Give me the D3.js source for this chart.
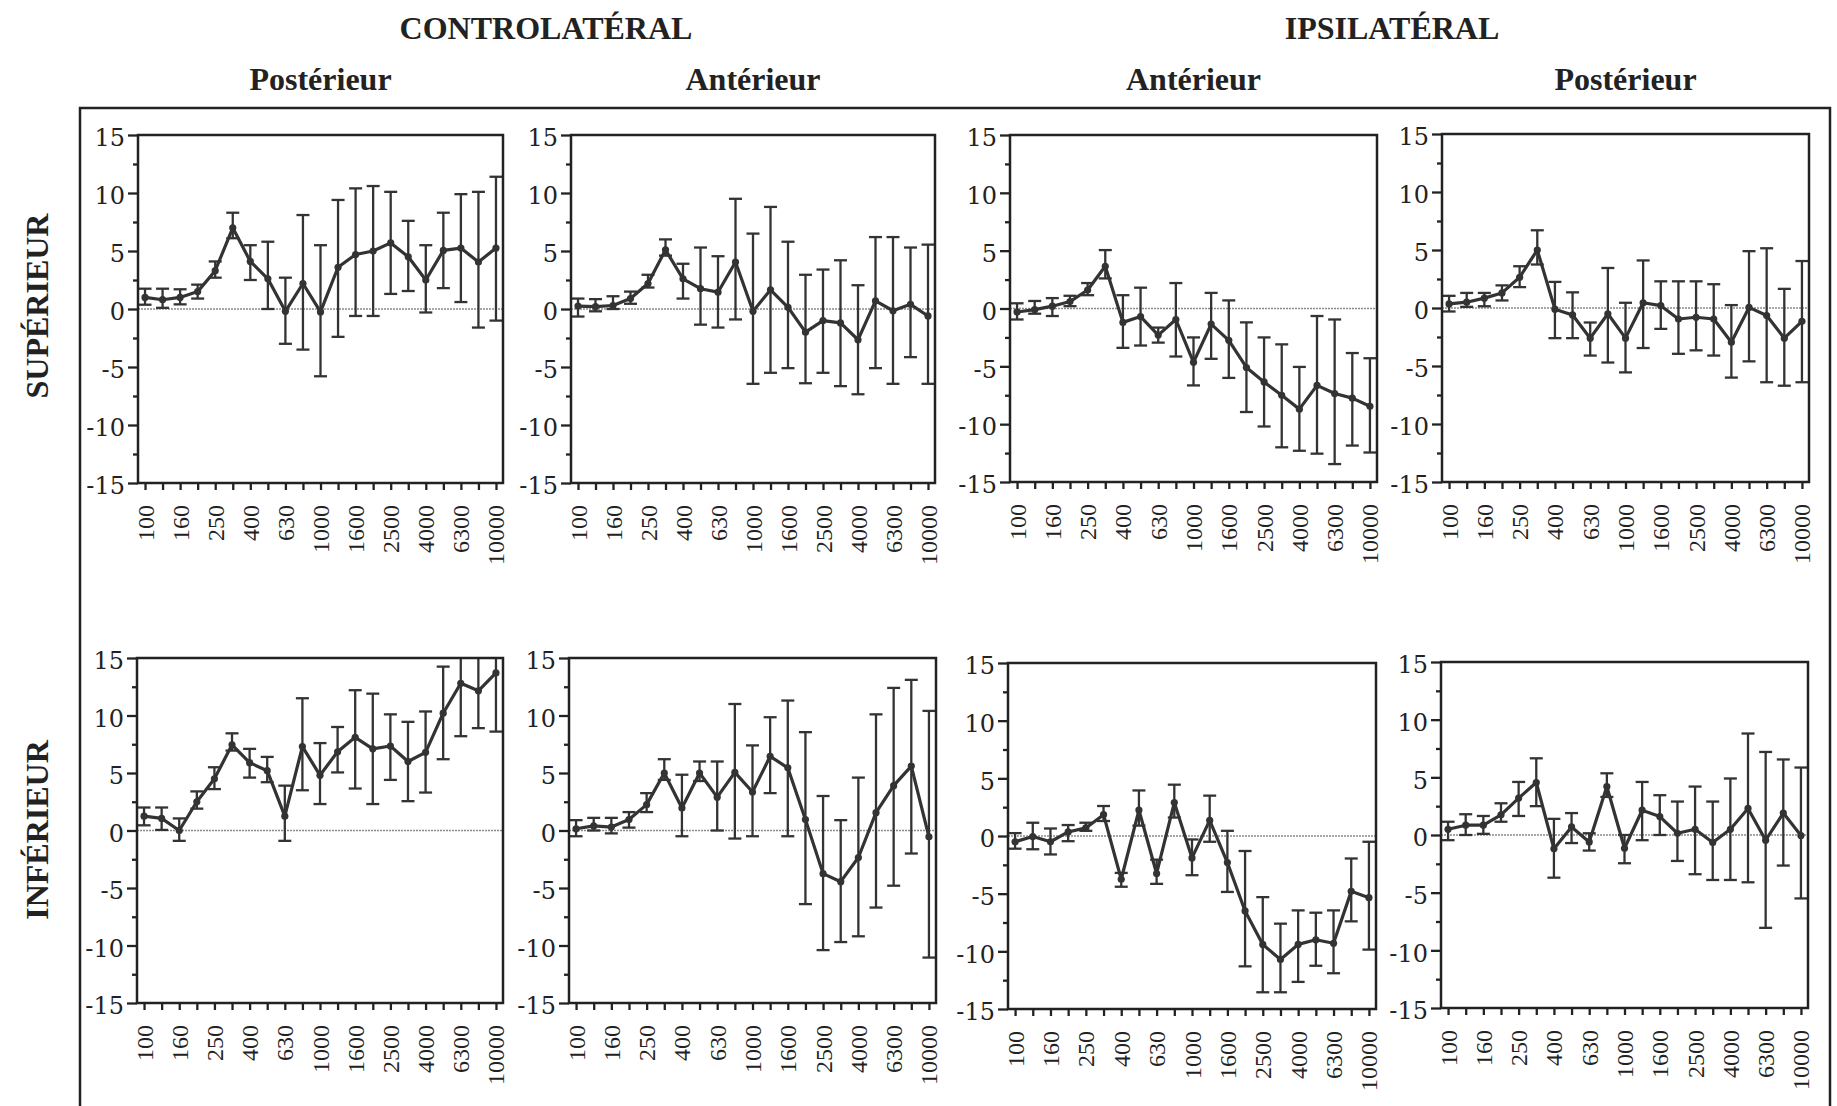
<!DOCTYPE html>
<html>
<head>
<meta charset="utf-8">
<title>Controlatéral / Ipsilatéral</title>
<script src="https://d3js.org/d3.v7.min.js"></script>
<style>
  body { margin: 0; background: #fff; }
  svg { display: block; }
</style>
</head>
<body>
<div id="chart"></div>
<script>
// third-octave frequencies, one point each
const freqs = ["100","125","160","200","250","315","400","500","630","800","1000","1250","1600","2000","2500","3150","4000","5000","6300","8000","10000"];
const freqLabels = ["100","160","250","400","630","1000","1600","2500","4000","6300","10000"];
const yTicks = [-15, -10, -5, 0, 5, 10, 15];
const yMinor = [-12.5, -7.5, -2.5, 2.5, 7.5, 12.5];

const colHeads = ["Postérieur", "Antérieur", "Antérieur", "Postérieur"];
const groupHeads = ["CONTROLATÉRAL", "IPSILATÉRAL"];
const rowHeads = ["SUPÉRIEUR", "INFÉRIEUR"];

// supérieur / controlatéral postérieur
const supCPMean = [1.0,0.8,1.0,1.5,3.3,7.0,4.1,2.6,-0.2,2.2,-0.25,3.6,4.7,5.0,5.7,4.5,2.5,5.05,5.25,4.05,5.25];
const supCPHi   = [1.75,1.75,1.7,2.1,4.1,8.3,5.5,5.8,2.7,8.1,5.5,9.4,10.4,10.6,10.1,7.6,5.5,8.3,9.9,10.1,11.4];
const supCPLo   = [0.37,0.1,0.4,0.9,2.7,6.1,2.5,0,-3.0,-3.5,-5.8,-2.4,-0.6,-0.6,1.3,1.55,-0.3,1.8,0.6,-1.6,-1.0];

// supérieur / controlatéral antérieur
const supCAMean = [0.25,0.2,0.3,0.9,2.2,5.1,2.6,1.75,1.45,4.05,-0.2,1.65,0.15,-2.0,-1.0,-1.2,-2.65,0.7,-0.15,0.4,-0.6];
const supCAHi   = [0.9,0.85,1.1,1.5,2.95,6.0,3.9,5.3,4.55,9.5,6.5,8.8,5.8,2.95,3.4,4.2,2.05,6.2,6.2,5.3,5.55];
const supCALo   = [-0.65,-0.2,0,0.45,1.85,4.6,0.9,-1.35,-1.6,-0.9,-6.45,-5.5,-5.1,-6.4,-5.5,-6.65,-7.35,-5.1,-6.45,-4.15,-6.45];

// supérieur / ipsilatéral antérieur
const supIAMean = [-0.3,-0.1,0.2,0.6,1.6,3.65,-1.2,-0.7,-2.3,-0.95,-4.65,-1.35,-2.75,-5.1,-6.35,-7.5,-8.7,-6.65,-7.35,-7.75,-8.45];
const supIAHi   = [0.45,0.65,0.9,1.1,2.2,5.05,1.15,1.8,-1.65,2.2,-2.5,1.35,0.7,-1.2,-2.5,-3.1,-5.05,-0.65,-0.95,-3.85,-4.3];
const supIALo   = [-0.95,-0.45,-0.65,0.2,1.15,2.6,-3.4,-3.2,-2.95,-4.15,-6.65,-4.35,-6.0,-8.95,-10.2,-12.0,-12.3,-12.55,-13.45,-11.85,-12.45];

// supérieur / ipsilatéral postérieur
const supIPMean = [0.35,0.5,0.85,1.3,2.65,5.0,-0.1,-0.6,-2.6,-0.5,-2.6,0.45,0.2,-0.95,-0.8,-0.95,-2.95,0.05,-0.65,-2.6,-1.15];
const supIPHi   = [1.05,1.3,1.3,1.95,3.6,6.7,2.25,1.35,-1.25,3.45,0.45,4.1,2.3,2.3,2.3,2.05,0.25,4.9,5.15,1.65,4.05];
const supIPLo   = [-0.3,0.1,0.15,0.65,1.8,3.75,-2.6,-2.6,-4.1,-4.7,-5.55,-3.45,-1.8,-3.95,-3.65,-4.1,-6.0,-4.6,-6.4,-6.7,-6.4];

// inférieur / controlatéral postérieur
const infCPMean = [1.25,1.05,0,2.5,4.5,7.45,5.9,5.2,1.25,7.3,4.8,6.85,8.1,7.1,7.35,6.0,6.8,10.2,12.8,12.15,13.7];
const infCPHi   = [2.0,2.0,1.05,3.4,5.5,8.45,7.1,6.4,3.9,11.5,7.6,9.0,12.2,11.9,10.1,9.45,10.35,14.25,17.4,15.4,18.8];
const infCPLo   = [0.45,0.05,-0.9,1.9,3.6,6.95,4.6,4.2,-0.9,3.5,2.3,5.05,3.65,2.3,4.4,2.55,3.3,6.2,8.2,8.9,8.6];

// inférieur / controlatéral antérieur
const infCAMean = [0.15,0.4,0.3,0.95,2.25,5.0,1.95,5.0,2.9,5.05,3.35,6.45,5.45,0.95,-3.75,-4.45,-2.35,1.55,3.9,5.6,-0.55];
const infCAHi   = [0.9,1.1,1.1,1.6,3.25,6.2,4.85,6.0,6.0,11.0,7.4,9.85,11.3,8.55,3.0,0.9,4.6,10.1,12.4,13.1,10.4];
const infCALo   = [-0.5,0,-0.25,0.25,1.6,4.4,-0.5,4.3,0,-0.7,-0.5,3.25,-0.5,-6.4,-10.4,-9.7,-9.2,-6.7,-4.8,-2.0,-11.05];

// inférieur / ipsilatéral antérieur
const infIAMean = [-0.5,-0.05,-0.5,0.35,0.7,1.85,-3.75,2.25,-3.25,2.9,-1.9,1.35,-2.3,-6.5,-9.4,-10.7,-9.4,-9.0,-9.3,-4.8,-5.35];
const infIAHi   = [0.25,1.15,0.65,0.95,1.15,2.6,-3.2,3.95,-2.05,4.45,-0.3,3.5,0.45,-1.3,-5.3,-7.6,-6.45,-6.65,-6.45,-1.95,-0.5];
const infIALo   = [-1.1,-1.15,-1.6,-0.45,0.45,1.3,-4.4,0.9,-4.15,1.6,-3.4,-0.5,-4.85,-11.3,-13.55,-13.55,-12.65,-11.25,-11.9,-7.4,-9.85];

// inférieur / ipsilatéral postérieur
const infIPMean = [0.5,0.85,0.85,1.75,3.2,4.55,-1.2,0.7,-0.6,4.2,-1.15,2.15,1.6,0.15,0.5,-0.65,0.5,2.3,-0.45,1.9,-0.05];
const infIPHi   = [1.15,1.8,1.65,2.75,4.6,6.65,1.4,1.9,0.15,5.35,0,4.6,3.45,2.9,4.2,2.9,4.9,8.8,7.2,6.55,5.85];
const infIPLo   = [-0.45,0,0.1,1.15,1.65,2.5,-3.7,-0.7,-1.35,3.3,-2.45,-0.45,0,-2.25,-3.4,-3.9,-3.9,-4.1,-8.05,-2.65,-5.5];

const width = 1837, height = 1106;
const ink = "#333";

// plot frames, left/right/top/bottom
const panels = [
  { mean: supCPMean, hi: supCPHi, lo: supCPLo, x0: 138,  x1: 503,  y0: 135, y1: 483 },
  { mean: supCAMean, hi: supCAHi, lo: supCALo, x0: 571,  x1: 935,  y0: 135, y1: 483 },
  { mean: supIAMean, hi: supIAHi, lo: supIALo, x0: 1010, x1: 1377, y0: 135, y1: 482 },
  { mean: supIPMean, hi: supIPHi, lo: supIPLo, x0: 1442, x1: 1809, y0: 134, y1: 482 },
  { mean: infCPMean, hi: infCPHi, lo: infCPLo, x0: 137,  x1: 503,  y0: 658, y1: 1003 },
  { mean: infCAMean, hi: infCAHi, lo: infCALo, x0: 569,  x1: 936,  y0: 658, y1: 1003 },
  { mean: infIAMean, hi: infIAHi, lo: infIALo, x0: 1008, x1: 1376, y0: 663, y1: 1009 },
  { mean: infIPMean, hi: infIPHi, lo: infIPLo, x0: 1441, x1: 1808, y0: 662, y1: 1008 }
];

const svg = d3.select("#chart").append("svg")
    .attr("width", width)
    .attr("height", height);

// big outer frame (bottom runs off the page)
svg.append("rect")
    .attr("x", 80).attr("y", 108)
    .attr("width", 1750).attr("height", 1100)
    .attr("fill", "none")
    .attr("stroke", "#222")
    .attr("stroke-width", 2.5);

const headFont = "'Liberation Serif', 'Times New Roman', serif";

// group headers
svg.selectAll("text.group")
    .data(groupHeads)
    .join("text")
    .attr("class", "group")
    .attr("x", (d, i) => [546, 1392][i])
    .attr("y", 39)
    .attr("text-anchor", "middle")
    .style("font-family", headFont)
    .style("font-weight", "bold")
    .style("font-size", "32px")
    .style("fill", "#222")
    .text(d => d);

// column headers
svg.selectAll("text.colhead")
    .data(colHeads)
    .join("text")
    .attr("class", "colhead")
    .attr("x", (d, i) => (panels[i].x0 + panels[i].x1) / 2)
    .attr("y", 90)
    .attr("text-anchor", "middle")
    .style("font-family", headFont)
    .style("font-weight", "bold")
    .style("font-size", "32px")
    .style("fill", "#222")
    .text(d => d);

// row headers, rotated
svg.selectAll("text.rowhead")
    .data(rowHeads)
    .join("text")
    .attr("class", "rowhead")
    .attr("transform", (d, i) => `translate(37,${[306, 830][i]}) rotate(-90)`)
    .attr("text-anchor", "middle")
    .attr("dominant-baseline", "central")
    .style("font-family", headFont)
    .style("font-weight", "bold")
    .style("font-size", "32px")
    .style("fill", "#222")
    .text(d => d);

panels.forEach((p, k) => drawPanel(p, k));

function drawPanel(p, k) {
    const x = d3.scalePoint()
        .domain(freqs)
        .range([p.x0, p.x1])
        .padding(0.4);

    const y = d3.scaleLinear()
        .domain([-15, 15])
        .range([p.y1, p.y0]);

    const g = svg.append("g");

    const clipId = "clip" + k;
    g.append("clipPath").attr("id", clipId)
      .append("rect")
        .attr("x", p.x0).attr("y", p.y0)
        .attr("width", p.x1 - p.x0).attr("height", p.y1 - p.y0);

    const plot = g.append("g").attr("clip-path", `url(#${clipId})`);

    // zero reference line
    plot.append("line")
        .attr("x1", p.x0).attr("x2", p.x1)
        .attr("y1", y(0)).attr("y2", y(0))
        .attr("stroke", "#8a8a8a")
        .attr("stroke-width", 1.3)
        .attr("stroke-dasharray", "2,1");

    const rows = freqs.map((f, i) => ({ f: f, m: p.mean[i], hi: p.hi[i], lo: p.lo[i] }));

    // error bars
    const cap = 6.5;
    const bars = plot.append("g")
        .attr("stroke", ink)
        .attr("stroke-width", 2.3);

    bars.selectAll("line.bar")
        .data(rows)
        .join("line")
        .attr("class", "bar")
        .attr("x1", d => x(d.f)).attr("x2", d => x(d.f))
        .attr("y1", d => y(d.hi)).attr("y2", d => y(d.lo));

    bars.selectAll("line.capHi")
        .data(rows)
        .join("line")
        .attr("class", "capHi")
        .attr("x1", d => x(d.f) - cap).attr("x2", d => x(d.f) + cap)
        .attr("y1", d => y(d.hi)).attr("y2", d => y(d.hi));

    bars.selectAll("line.capLo")
        .data(rows)
        .join("line")
        .attr("class", "capLo")
        .attr("x1", d => x(d.f) - cap).attr("x2", d => x(d.f) + cap)
        .attr("y1", d => y(d.lo)).attr("y2", d => y(d.lo));

    // mean line
    const line = d3.line()
        .x(d => x(d.f))
        .y(d => y(d.m));

    plot.append("path")
        .datum(rows)
        .attr("fill", "none")
        .attr("stroke", ink)
        .attr("stroke-width", 3.2)
        .attr("stroke-linejoin", "round")
        .attr("d", line);

    plot.selectAll("circle")
        .data(rows)
        .join("circle")
        .attr("cx", d => x(d.f))
        .attr("cy", d => y(d.m))
        .attr("r", 3.6)
        .attr("fill", ink);

    // frame
    g.append("rect")
        .attr("x", p.x0).attr("y", p.y0)
        .attr("width", p.x1 - p.x0).attr("height", p.y1 - p.y0)
        .attr("fill", "none")
        .attr("stroke", "#222")
        .attr("stroke-width", 2.5);

    // y axis, major + minor ticks (plain hyphen for negatives)
    const yAxis = g.append("g")
        .attr("transform", `translate(${p.x0},0)`)
        .call(d3.axisLeft(y).tickValues(yTicks).tickSize(10).tickSizeOuter(0).tickPadding(3)
            .tickFormat(d => String(d)));

    yAxis.select(".domain").remove();
    yAxis.selectAll("line").attr("stroke", "#222").attr("stroke-width", 2.3);
    yAxis.selectAll("text")
        .attr("dy", "0.45em")
        .style("font-family", "'DejaVu Serif', serif")
        .style("font-size", "24px")
        .style("fill", "#222");

    const yMin = g.append("g")
        .attr("transform", `translate(${p.x0},0)`)
        .call(d3.axisLeft(y).tickValues(yMinor).tickSize(5).tickFormat(""));
    yMin.select(".domain").remove();
    yMin.selectAll("line").attr("stroke", "#222").attr("stroke-width", 2.3);

    // x axis, labels every second band
    const xAxis = g.append("g")
        .attr("transform", `translate(0,${p.y1})`)
        .call(d3.axisBottom(x).tickSize(7).tickSizeOuter(0)
            .tickFormat(d => freqLabels.includes(d) ? d : ""));

    xAxis.select(".domain").remove();
    xAxis.selectAll("line").attr("stroke", "#222").attr("stroke-width", 2.3);
    xAxis.selectAll("text")
        .attr("transform", "rotate(-90)")
        .attr("x", -22)
        .attr("y", 0)
        .attr("dy", null)
        .attr("text-anchor", "end")
        .attr("dominant-baseline", "central")
        .style("font-family", "'Liberation Serif', serif")
        .style("font-size", "24px")
        .style("fill", "#222");
}
</script>
</body>
</html>
